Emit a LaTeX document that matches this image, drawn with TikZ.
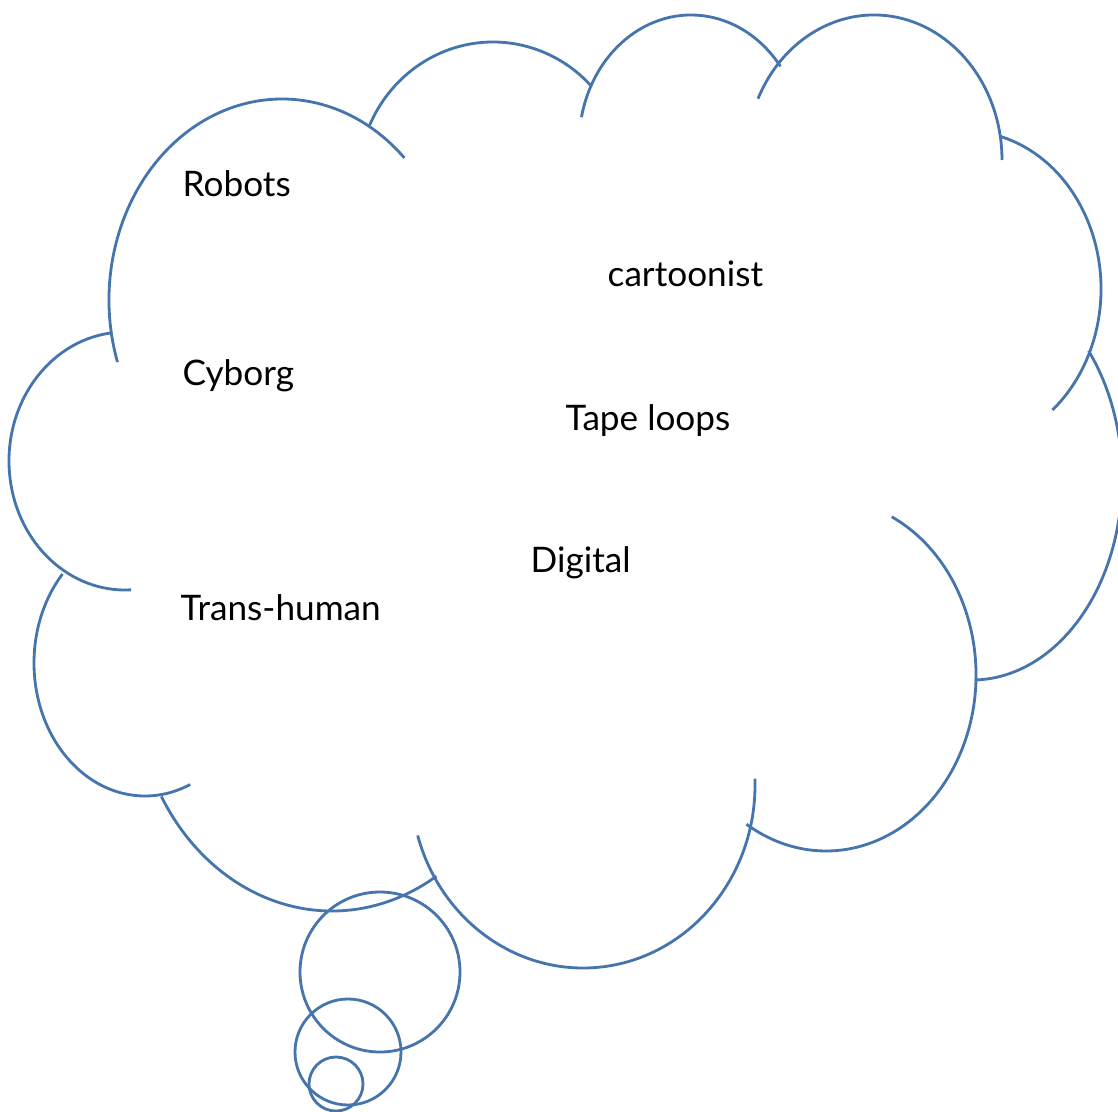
\documentclass[tikz,border=0pt]{standalone}
\usepackage{fontspec}
\setmainfont{Lato}
\usepackage{tikz}
\usetikzlibrary{calc}
\definecolor{kumo}{RGB}{70,116,172}
\tikzset{
    kumosen/.style={draw=kumo,line width=0.8pt},
    kotoba/.style={anchor=base west,inner sep=0pt,font=\fontsize{10}{12}\selectfont}
}

\begin{document}
\begin{tikzpicture}[x=0.01cm,y=0.01cm]
            \useasboundingbox (0,0) rectangle (1118,1111);

            % 雲の弧の中心を定義
            \coordinate (a) at (282,811);
            \coordinate (b) at (493,929);
            \coordinate (c) at (691,967);
            \coordinate (d) at (874,951);
            \coordinate (e) at (965,822);
            \coordinate (f) at (972,633);
            \coordinate (g) at (826,436);
            \coordinate (h) at (583,326);
            \coordinate (i) at (332,429);
            \coordinate (j) at (145,448);
            \coordinate (k) at (125,650);

            % 雲の弧を描く
            \draw[kumosen] ($(a)+(198:173 and 201)$) arc[start angle=198,end angle=45,x radius=173,y radius=201];
            \draw[kumosen] ($(b)+(156:135 and 140)$) arc[start angle=156,end angle=43,x radius=135,y radius=140];
            \draw[kumosen] ($(c)+(168:112 and 129)$) arc[start angle=168,end angle=37,x radius=112,y radius=129];
            \draw[kumosen] ($(d)+(155:128 and 145)$) arc[start angle=155,end angle=0,x radius=128,y radius=145];
            \draw[kumosen] ($(e)+(75:136 and 158)$) arc[start angle=75,end angle=-50,x radius=136,y radius=158];
            \draw[kumosen] ($(f)+(39:150 and 202)$) arc[start angle=39,end angle=-89,x radius=150,y radius=202];
            \draw[kumosen] ($(g)+(64:150 and 176)$) arc[start angle=64,end angle=-122,x radius=150,y radius=176];
            \draw[kumosen] ($(h)+(2:172 and 183)$) arc[start angle=2,end angle=-164,x radius=172,y radius=183];
            \draw[kumosen] ($(i)+(210:197 and 229)$) arc[start angle=210,end angle=302,x radius=197,y radius=229];
            \draw[kumosen] ($(j)+(138:111 and 133)$) arc[start angle=138,end angle=294,x radius=111,y radius=133];
            \draw[kumosen] ($(k)+(97:116 and 129)$) arc[start angle=97,end angle=273,x radius=116,y radius=129];

            % 吹き出しの泡
            \coordinate (p) at (380,139);
            \coordinate (q) at (348,59);
            \coordinate (r) at (336,27);
            \draw[kumosen] (p) circle[radius=80];
            \draw[kumosen] (q) circle[radius=53];
            \draw[kumosen] (r) circle[radius=27];

            % 言葉
            \node[kotoba] (robots) at (182,914) {Robots};
            \node[kotoba] (cartoonist) at (607,824) {cartoonist};
            \node[kotoba] (cyborg) at (182,726) {Cyborg};
            \node[kotoba] (tape) at (565,681) {Tape loops};
            \node[kotoba] (digital) at (530,539) {Digital};
            \node[kotoba] (trans) at (180,491) {Trans-human};

        \end{tikzpicture}
\end{document}
